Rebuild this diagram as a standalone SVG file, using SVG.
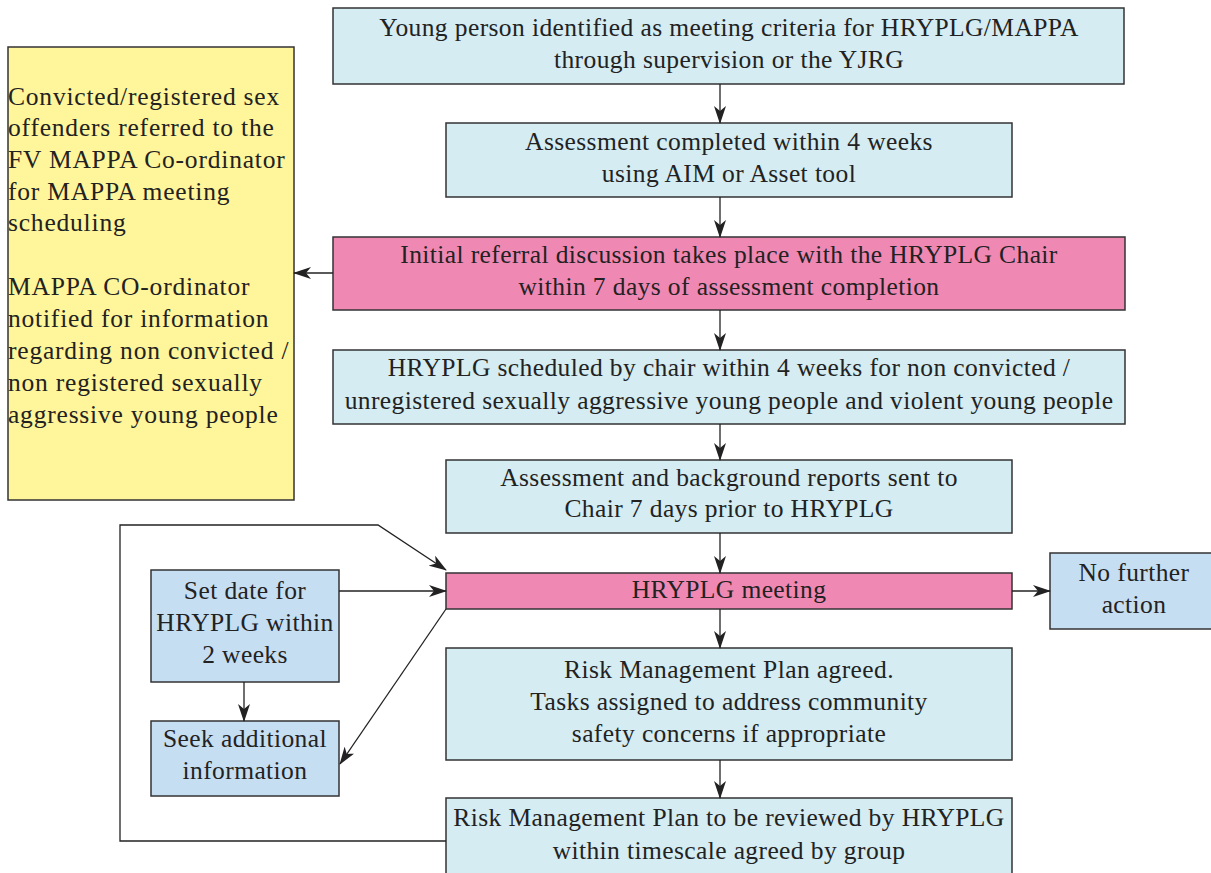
<svg xmlns="http://www.w3.org/2000/svg" width="1211" height="873" viewBox="0 0 1211 873">
<defs>
<marker id="ah" markerWidth="18" markerHeight="12" refX="17" refY="6" orient="auto" markerUnits="userSpaceOnUse">
<path d="M0,0 L18,6 L0,12 L5,6 Z" fill="#222"/>
</marker>
<style>
.b{stroke:#333;stroke-width:1.5}
.cy{fill:#d4ecf2}
.pk{fill:#f088b4}
.yl{fill:#fff59a}
.bl{fill:#c6def2}
text{font-family:"Liberation Serif",serif;font-size:25.5px;letter-spacing:0.4px;fill:#222}
.c{text-anchor:middle}
.y{letter-spacing:0.8px}
.e{stroke:#222;stroke-width:1.3;fill:none}
</style>
</defs>
<rect width="1211" height="873" fill="#fff"/>
<g id="n1"><rect class="b cy" x="333" y="8" width="791" height="76"/>
<text class="c" x="729" y="36">Young person identified as meeting criteria for HRYPLG/MAPPA</text>
<text class="c" x="729" y="68">through supervision or the YJRG</text></g>
<g id="n2"><rect class="b cy" x="446" y="123" width="566" height="74"/>
<text class="c" x="729" y="150">Assessment completed within 4 weeks</text>
<text class="c" x="729" y="182">using AIM or Asset tool</text></g>
<g id="n3"><rect class="b pk" x="333" y="237" width="792" height="73"/>
<text class="c" x="729" y="263">Initial referral discussion takes place with the HRYPLG Chair</text>
<text class="c" x="729" y="295">within 7 days of assessment completion</text></g>
<g id="n4"><rect class="b cy" x="333" y="350" width="792" height="74"/>
<text class="c" x="729" y="376">HRYPLG scheduled by chair within 4 weeks for non convicted /</text>
<text class="c" x="729" y="409">unregistered sexually aggressive young people and violent young people</text></g>
<g id="n5"><rect class="b cy" x="446" y="460" width="566" height="73"/>
<text class="c" x="729" y="486">Assessment and background reports sent to</text>
<text class="c" x="729" y="517">Chair 7 days prior to HRYPLG</text></g>
<g id="n6"><rect class="b pk" x="446" y="573" width="566" height="36"/>
<text class="c" x="729" y="598">HRYPLG meeting</text></g>
<g id="n7"><rect class="b cy" x="446" y="648" width="566" height="112"/>
<text class="c" x="729" y="678">Risk Management Plan agreed.</text>
<text class="c" x="729" y="710">Tasks assigned to address community</text>
<text class="c" x="729" y="742">safety concerns if appropriate</text></g>
<g id="n8"><rect class="b cy" x="446" y="798" width="566" height="90"/>
<text class="c" x="729" y="826">Risk Management Plan to be reviewed by HRYPLG</text>
<text class="c" x="729" y="859">within timescale agreed by group</text></g>
<g id="n9"><rect class="b yl" x="8" y="47" width="286" height="453"/>
<text class="y" x="8" y="105">Convicted/registered sex</text>
<text class="y" x="8" y="136">offenders referred to the</text>
<text class="y" x="8" y="168">FV MAPPA Co-ordinator</text>
<text class="y" x="8" y="200">for MAPPA meeting</text>
<text class="y" x="8" y="231">scheduling</text>
<text class="y" x="8" y="295">MAPPA CO-ordinator</text>
<text class="y" x="8" y="327">notified for information</text>
<text class="y" x="8" y="359">regarding non convicted /</text>
<text class="y" x="8" y="391">non registered sexually</text>
<text class="y" x="8" y="423">aggressive young people</text></g>
<g id="n10"><rect class="b bl" x="151" y="570" width="188" height="112"/>
<text class="c" x="245" y="599">Set date for</text>
<text class="c" x="245" y="631">HRYPLG within</text>
<text class="c" x="245" y="663">2 weeks</text></g>
<g id="n11"><rect class="b bl" x="151" y="721" width="188" height="75"/>
<text class="c" x="245" y="747">Seek additional</text>
<text class="c" x="245" y="779">information</text></g>
<g id="n12"><rect class="b bl" x="1050" y="553" width="165" height="76"/>
<text class="c" x="1134" y="581">No further</text>
<text class="c" x="1134" y="613">action</text></g>
<g id="connectors">
<line class="e" x1="720" y1="84" x2="720" y2="123" marker-end="url(#ah)"/>
<line class="e" x1="720" y1="197" x2="720" y2="237" marker-end="url(#ah)"/>
<line class="e" x1="720" y1="310" x2="720" y2="350" marker-end="url(#ah)"/>
<line class="e" x1="720" y1="424" x2="720" y2="460" marker-end="url(#ah)"/>
<line class="e" x1="720" y1="533" x2="720" y2="573" marker-end="url(#ah)"/>
<line class="e" x1="720" y1="609" x2="720" y2="648" marker-end="url(#ah)"/>
<line class="e" x1="720" y1="760" x2="720" y2="798" marker-end="url(#ah)"/>
<line class="e" x1="333" y1="273" x2="294" y2="273" marker-end="url(#ah)"/>
<line class="e" x1="1012" y1="591" x2="1050" y2="591" marker-end="url(#ah)"/>
<line class="e" x1="339" y1="591" x2="446" y2="591" marker-end="url(#ah)"/>
<line class="e" x1="244" y1="682" x2="244" y2="721" marker-end="url(#ah)"/>
<line class="e" x1="446" y1="609" x2="340" y2="764" marker-end="url(#ah)"/>
<polyline class="e" points="446,841 120,841 120,525 378,525 446,570" marker-end="url(#ah)"/>
</g>
</svg>
